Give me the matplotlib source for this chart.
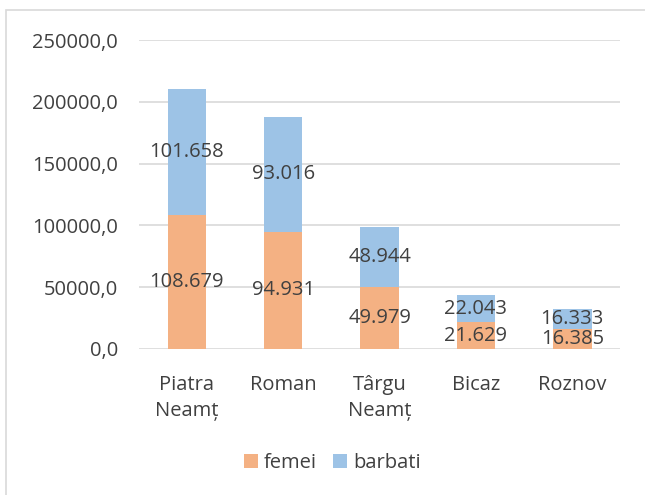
import matplotlib.pyplot as plt
from matplotlib.patches import Rectangle
from matplotlib.ticker import FuncFormatter

plt.rcParams["font.family"] = ["Open Sans", "DejaVu Sans"]

orase = ["Piatra\nNeamț", "Roman", "Târgu\nNeamț", "Bicaz", "Roznov"]
femei = [108679, 94931, 49979, 21629, 16385]
barbati = [101658, 93016, 48944, 22043, 16333]

COL_F = "#F4B183"
COL_B = "#9DC3E6"
TXT = "#404040"
FS = 14.5


def fmt_val(v):
    return f"{v:,}".replace(",", ".")


fig = plt.figure(figsize=(6.45, 4.95), dpi=100)
ax = fig.add_axes([0.215, 0.295, 0.747, 0.624])

x = list(range(len(orase)))
b1 = ax.bar(x, femei, width=0.4, color=COL_F, zorder=3)
b2 = ax.bar(x, barbati, width=0.4, bottom=femei, color=COL_B, zorder=3)

for i in x:
    ax.text(i, femei[i] / 2, fmt_val(femei[i]), ha="center", va="center",
            fontsize=FS, color=TXT, zorder=4)
    ax.text(i, femei[i] + barbati[i] / 2, fmt_val(barbati[i]), ha="center",
            va="center", fontsize=FS, color=TXT, zorder=4)

ax.set_xlim(-0.5, len(orase) - 0.5)
ax.set_ylim(0, 250000)
ax.set_yticks([0, 50000, 100000, 150000, 200000, 250000])
ax.yaxis.set_major_formatter(FuncFormatter(lambda v, p: f"{v:.1f}".replace(".", ",")))
ax.set_xticks(x)
ax.set_xticklabels(orase, linespacing=1.4)
ax.tick_params(length=0, labelsize=FS, labelcolor=TXT)
ax.tick_params(axis="y", pad=15)
ax.tick_params(axis="x", pad=19)
for s in ax.spines.values():
    s.set_visible(False)
ax.grid(axis="y", color="#D9D9D9", linewidth=1.2, zorder=0)

fig.legend([b1, b2], ["femei", "barbati"], loc="center", bbox_to_anchor=(0.515, 0.064),
           ncol=2, frameon=False, fontsize=FS, labelcolor=TXT,
           handlelength=0.7, handleheight=0.7, handletextpad=0.3, columnspacing=0.8)

fig.patches.append(Rectangle((6 / 645, -0.1), 2.0, 1.1 - 10 / 495, transform=fig.transFigure,
                             fill=False, edgecolor="#D9D9D9", linewidth=1.2))

fig.savefig("out.png", dpi=100)
